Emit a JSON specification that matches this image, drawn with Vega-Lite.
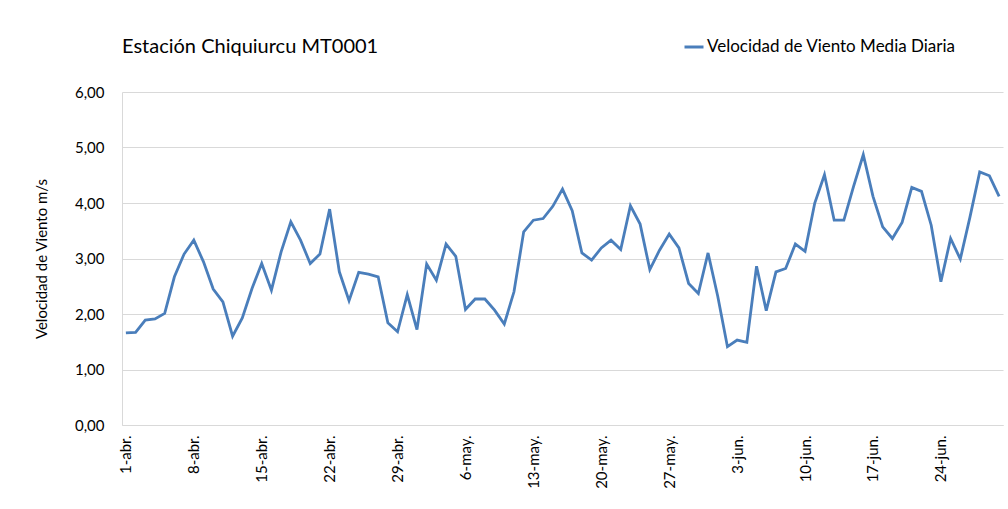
{
  "$schema": "https://vega.github.io/schema/vega-lite/v6.json",
  "width": 881,
  "height": 333,
  "autosize": {"type": "none"},
  "padding": {"left": 122, "top": 92, "right": 5, "bottom": 84},
  "background": "white",
  "title": {
    "text": "Estación Chiquiurcu MT0001",
    "anchor": "start",
    "frame": "group",
    "offset": 0,
    "dy": 21,
    "font": "Lato",
    "fontSize": 20,
    "fontWeight": "normal",
    "color": "#000000"
  },
  "data": {
    "values": [
      {"fecha": "1-abr.", "v": 1.66}, {"fecha": "2-abr.", "v": 1.67}, {"fecha": "3-abr.", "v": 1.89}, {"fecha": "4-abr.", "v": 1.91}, {"fecha": "5-abr.", "v": 2.01},
      {"fecha": "6-abr.", "v": 2.67}, {"fecha": "7-abr.", "v": 3.08}, {"fecha": "8-abr.", "v": 3.33}, {"fecha": "9-abr.", "v": 2.94}, {"fecha": "10-abr.", "v": 2.45},
      {"fecha": "11-abr.", "v": 2.22}, {"fecha": "12-abr.", "v": 1.60}, {"fecha": "13-abr.", "v": 1.93}, {"fecha": "14-abr.", "v": 2.46}, {"fecha": "15-abr.", "v": 2.91},
      {"fecha": "16-abr.", "v": 2.43}, {"fecha": "17-abr.", "v": 3.12}, {"fecha": "18-abr.", "v": 3.66}, {"fecha": "19-abr.", "v": 3.33}, {"fecha": "20-abr.", "v": 2.91},
      {"fecha": "21-abr.", "v": 3.08}, {"fecha": "22-abr.", "v": 3.89}, {"fecha": "23-abr.", "v": 2.76}, {"fecha": "24-abr.", "v": 2.24}, {"fecha": "25-abr.", "v": 2.75},
      {"fecha": "26-abr.", "v": 2.72}, {"fecha": "27-abr.", "v": 2.67}, {"fecha": "28-abr.", "v": 1.84}, {"fecha": "29-abr.", "v": 1.68}, {"fecha": "30-abr.", "v": 2.35},
      {"fecha": "1-may.", "v": 1.72}, {"fecha": "2-may.", "v": 2.90}, {"fecha": "3-may.", "v": 2.61}, {"fecha": "4-may.", "v": 3.26}, {"fecha": "5-may.", "v": 3.04},
      {"fecha": "6-may.", "v": 2.08}, {"fecha": "7-may.", "v": 2.27}, {"fecha": "8-may.", "v": 2.27}, {"fecha": "9-may.", "v": 2.07}, {"fecha": "10-may.", "v": 1.82},
      {"fecha": "11-may.", "v": 2.40}, {"fecha": "12-may.", "v": 3.48}, {"fecha": "13-may.", "v": 3.69}, {"fecha": "14-may.", "v": 3.72}, {"fecha": "15-may.", "v": 3.94},
      {"fecha": "16-may.", "v": 4.25}, {"fecha": "17-may.", "v": 3.86}, {"fecha": "18-may.", "v": 3.10}, {"fecha": "19-may.", "v": 2.97}, {"fecha": "20-may.", "v": 3.19},
      {"fecha": "21-may.", "v": 3.33}, {"fecha": "22-may.", "v": 3.16}, {"fecha": "23-may.", "v": 3.95}, {"fecha": "24-may.", "v": 3.62}, {"fecha": "25-may.", "v": 2.80},
      {"fecha": "26-may.", "v": 3.15}, {"fecha": "27-may.", "v": 3.44}, {"fecha": "28-may.", "v": 3.19}, {"fecha": "29-may.", "v": 2.55}, {"fecha": "30-may.", "v": 2.37},
      {"fecha": "31-may.", "v": 3.10}, {"fecha": "1-jun.", "v": 2.32}, {"fecha": "2-jun.", "v": 1.41}, {"fecha": "3-jun.", "v": 1.53}, {"fecha": "4-jun.", "v": 1.49},
      {"fecha": "5-jun.", "v": 2.86}, {"fecha": "6-jun.", "v": 2.06}, {"fecha": "7-jun.", "v": 2.76}, {"fecha": "8-jun.", "v": 2.82}, {"fecha": "9-jun.", "v": 3.26},
      {"fecha": "10-jun.", "v": 3.13}, {"fecha": "11-jun.", "v": 4.00}, {"fecha": "12-jun.", "v": 4.51}, {"fecha": "13-jun.", "v": 3.69}, {"fecha": "14-jun.", "v": 3.69},
      {"fecha": "15-jun.", "v": 4.30}, {"fecha": "16-jun.", "v": 4.87}, {"fecha": "17-jun.", "v": 4.12}, {"fecha": "18-jun.", "v": 3.57}, {"fecha": "19-jun.", "v": 3.36},
      {"fecha": "20-jun.", "v": 3.65}, {"fecha": "21-jun.", "v": 4.28}, {"fecha": "22-jun.", "v": 4.21}, {"fecha": "23-jun.", "v": 3.60}, {"fecha": "24-jun.", "v": 2.58},
      {"fecha": "25-jun.", "v": 3.36}, {"fecha": "26-jun.", "v": 2.99}, {"fecha": "27-jun.", "v": 3.75}, {"fecha": "28-jun.", "v": 4.56}, {"fecha": "29-jun.", "v": 4.49},
      {"fecha": "30-jun.", "v": 4.12}
    ]
  },
  "mark": {"type": "line", "strokeWidth": 2.8, "interpolate": "linear"},
  "encoding": {
    "x": {
      "field": "fecha",
      "type": "ordinal",
      "sort": null,
      "scale": {"type": "point", "padding": 0.4},
      "axis": {
        "title": null,
        "values": ["1-abr.", "8-abr.", "15-abr.", "22-abr.", "29-abr.", "6-may.", "13-may.", "20-may.", "27-may.", "3-jun.", "10-jun.", "17-jun.", "24-jun."],
        "labelAngle": 270,
        "labelAlign": "right",
        "labelBaseline": "middle",
        "labelPadding": 10,
        "labelFont": "Lato",
        "labelFontSize": 15,
        "labelColor": "#000000",
        "ticks": false,
        "domainColor": "#d9d9d9",
        "domainWidth": 1,
        "grid": false
      }
    },
    "y": {
      "field": "v",
      "type": "quantitative",
      "scale": {"domain": [0, 6], "nice": false},
      "axis": {
        "title": "Velocidad de Viento m/s",
        "titleFont": "Lato",
        "titleFontSize": 15,
        "titleFontWeight": "normal",
        "titleColor": "#000000",
        "titlePadding": 25,
        "values": [0, 1, 2, 3, 4, 5, 6],
        "labelExpr": "replace(format(datum.value, '.2f'), '.', ',')",
        "labelFont": "Lato",
        "labelFontSize": 15,
        "labelColor": "#000000",
        "labelPadding": 18,
        "ticks": false,
        "domainColor": "#d9d9d9",
        "domainWidth": 1,
        "gridColor": "#d9d9d9",
        "gridWidth": 1
      }
    },
    "color": {
      "datum": "Velocidad de Viento Media Diaria",
      "type": "nominal",
      "scale": {"range": ["#4A7EBB"]},
      "legend": {
        "title": null,
        "orient": "none",
        "legendX": 561,
        "legendY": -56,
        "symbolType": "stroke",
        "symbolSize": 361,
        "symbolStrokeWidth": 3,
        "labelFont": "Lato",
        "labelFontSize": 17,
        "labelColor": "#000000",
        "labelOffset": 2,
        "labelLimit": 400
      }
    }
  },
  "config": {
    "view": {"stroke": null}
  }
}
